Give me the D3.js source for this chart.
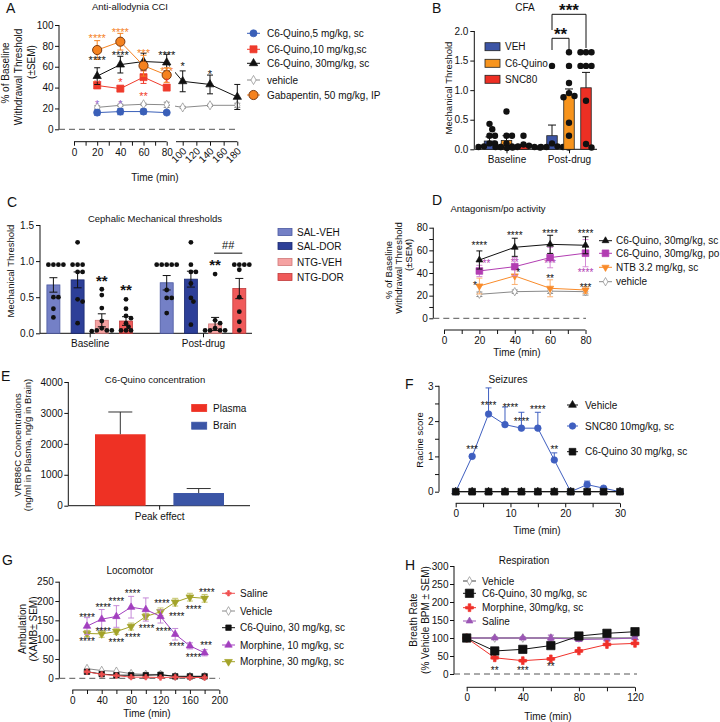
<!DOCTYPE html>
<html>
<head>
<meta charset="utf-8">
<script src="https://cdn.jsdelivr.net/npm/d3@7"></script>
<style>
  body { margin: 0; background: #fff; }
  svg { font-family: "Liberation Sans", Arial, sans-serif; }
</style>
</head>
<body>
<svg id="fig" width="720" height="722"></svg>
<script>
// ---------- A: anti-allodynia CCI ----------
const aTimes = [20, 40, 60, 80, 100, 140, 180];
const aQuino5 = [16, 17, 17, 16];
const aQuino5Err = [2.5, 3, 2.5, 1];
const aQuino10 = [42, 39, 50, 40];
const aQuino10Err = [2.5, 2, 6, 2.5];
const aQuino30 = [51, 62, 65, 64, 46, 43, 31];
const aQuino30Err = [8, 8, 8, 8, 10, 9, 12];
const aVehicle = [21, 23, 24, 23.5, 21, 23, 23];
const aVehicleErr = [1.5, 1, 1, 2.5, 1, 1, 2];
const aGaba = [76, 84, 61, 52];
const aGabaErr = [9, 8, 10, 7];
const aStarsGaba = [[20, 89.5, '****'], [40, 95, '****'], [60, 75, '***'], [80, 58.5, '***']];
const aStarsQuino30 = [[20, 69, '****'], [40, 73, '****'], [80, 73.5, '****'], [100, 63, '*'], [140, 55, '*']];
const aStarsQuino10 = [[20, 45.5, '**'], [40, 48, '*'], [60, 34.5, '**'], [80, 48, '*']];
const aStarsQuino5 = [[20, 26.5, '*'], [40, 26.5, '*']];

// ---------- B: CFA ----------
const bGroups = ['Baseline', 'Post-drug'];
const bSeries = ['VEH', 'C6-Quino', 'SNC80'];
const bVeh = [0.14, 0.23];
const bVehErr = [0.07, 0.18];
const bQuino = [0.15, 0.92];
const bQuinoErr = [0.08, 0.1];
const bSnc = [0.06, 1.04];
const bSncErr = [0.02, 0.26];
const bDotsVeh = [[0.43, 0.34, 0.23, 0.23, 0.1, 0.1, 0.05, 0.04, 0.04, 0.04], [1.41, 0.1, 0.05, 0.04, 0.04, 0.04, 0.03]];
const bDotsQuino = [[0.64, 0.23, 0.23, 0.1, 0.05, 0.04, 0.04, 0.04], [1.64, 1.41, 1.12, 0.95, 0.9, 0.88, 0.45, 0.23]];
const bDotsSnc = [[0.23, 0.08, 0.06, 0.05, 0.04, 0.03, 0.03, 0.02], [1.64, 1.64, 1.64, 1.41, 1.41, 1.41, 0.82, 0.09, 0.03]];

// ---------- C: cephalic thresholds ----------
const cGroups = ['Baseline', 'Post-drug'];
const cSeries = ['SAL-VEH', 'SAL-DOR', 'NTG-VEH', 'NTG-DOR'];
const cSalVeh = [0.67, 0.70];
const cSalVehErr = [0.1, 0.1];
const cSalDor = [0.74, 0.75];
const cSalDorErr = [0.11, 0.11];
const cNtgVeh = [0.18, 0.13];
const cNtgVehErr = [0.09, 0.09];
const cNtgDor = [0.17, 0.62];
const cNtgDorErr = [0.06, 0.14];
const cDotsSalVeh = [[0.95, 0.95, 0.95, 0.95, 0.5, 0.5, 0.34, 0.22], [0.95, 0.95, 0.95, 0.95, 0.95, 0.6, 0.49, 0.49, 0.28]];
const cDotsSalDor = [[1.26, 0.95, 0.95, 0.95, 0.85, 0.85, 0.47, 0.44, 0.14], [1.26, 0.95, 0.85, 0.85, 0.69, 0.49, 0.44, 0.12]];
const cDotsNtgVeh = [[0.61, 0.53, 0.35, 0.17, 0.07, 0.04, 0.04, 0.04, 0.03], [0.82, 0.18, 0.14, 0.07, 0.04, 0.04, 0.04, 0.04]];
const cDotsNtgDor = [[0.47, 0.34, 0.24, 0.21, 0.14, 0.09, 0.04, 0.04, 0.04], [0.95, 0.95, 0.95, 0.95, 0.88, 0.5, 0.3, 0.16, 0.04]];

// ---------- D: antagonism / po ----------
const dTimes = [20, 40, 60, 80];
const dQuinoSc = [51.5, 62.7, 65.3, 64.5];
const dQuinoScErr = [8, 8, 8, 7.5];
const dQuinoPo = [41.8, 45.6, 53.6, 57.5];
const dQuinoPoErr = [5, 8, 9, 12];
const dNtb = [28.5, 37.4, 26.5, 25];
const dNtbErr = [7, 7.5, 7.5, 3];
const dVehicle = [21.2, 23.5, 24, 23.5];
const dVehicleErr = [2, 1.5, 2, 3];
const dStarsSc = [[20, 66, '****'], [40, 75, '****'], [60, 76.5, '****'], [80, 76.5, '****']];
const dStarsPo = [[24, 50.4, '**'], [40, 51.5, '**'], [60, 50.4, '***'], [80, 42.7, '****']];
const dStarsNtb = [[17.5, 31, '*'], [42, 42, '*'], [60, 36.7, '**'], [80, 29.4, '***']];

// ---------- E: concentration ----------
const eGroups = ['Plasma', 'Brain'];
const eMeans = [2310, 410];
const eErr = [720, 145];

// ---------- F: seizures ----------
const fTimes = [0, 3, 6, 9, 12, 15, 18, 21, 24, 27, 30];
const fSnc80 = [0, 1.0, 2.2, 1.9, 1.8, 1.8, 0.9, 0, 0.2, 0.1, 0];
const fSnc80Err = [0, 0.05, 0.74, 0.5, 0.45, 0.45, 0.2, 0, 0.1, 0.02, 0];
const fVehicle = [0, 0, 0, 0, 0, 0, 0, 0, 0, 0, 0];
const fQuino = [0, 0, 0, 0, 0, 0, 0, 0, 0, 0, 0];
const fStars = [[3, 1.25, '***'], [6, 2.5, '****'], [10, 2.45, '****'], [12, 2.06, '****'], [15, 2.4, '****'], [18, 1.27, '**']];

// ---------- G: locomotor ----------
const gTimes = [20, 40, 60, 80, 100, 120, 140, 160, 180];
const gSaline = [17, 10, 7, 3, 3, 2, 3, 2, 2];
const gVehicle = [25, 20, 18, 12, 10, 10, 5, 5, 5];
const gQuino = [17, 11, 8, 8, 8, 9, 5, 5, 5];
const gMorph10 = [135, 153, 160, 184, 178, 160, 114, 84, 66];
const gMorph10Err = [22, 25, 28, 28, 30, 17, 15, 8, 8];
const gMorph30 = [116, 115, 121, 134, 160, 172, 197, 210, 207];
const gMorph30Err = [8, 9, 7, 9, 8, 10, 10, 10, 10];
const gStars = [
  [20, 164, '****'], [42, 190, '****'], [60, 205, '****'], [82, 226, '****'], [122, 198, '****'], [183, 229, '****'],
  [42, 127, '****'], [20, 102, '****'], [60, 99, '****'], [82, 112, '****'], [101, 135, '****'], [124, 127, '****'],
  [142, 166, '****'], [165, 185, '****'], [142, 88, '****'], [165, 60, '****'], [182, 91, '***']
];

// ---------- H: respiration ----------
const hTimes = [0, 20, 40, 60, 80, 100, 120];
const hVehicle = [100, 100, 100, 100, 100, 100, 100];
const hQuino = [100, 64, 68.5, 79, 105.5, 113, 117.5];
const hQuinoErr = [2, 3, 3, 3, 3, 3, 3];
const hMorph = [100, 45, 37, 42, 64, 82, 85];
const hMorphErr = [2, 3, 3, 3, 3, 3, 3];
const hSaline = [100, 100, 100, 100, 96, 97, 100];
const hSalineErr = [0, 3, 3, 8, 5, 5, 4];
const hStars = [[20, 16, '**'], [40, 16.7, '***'], [60, 27, '**']];

// ================= helpers =================
const svg = d3.select('#fig');
const INK = '#111';

function label(x, y, s, o = {}) {
  return svg.append('text').attr('x', x).attr('y', y)
    .attr('font-size', o.size || 10)
    .attr('fill', o.color || INK)
    .attr('text-anchor', o.anchor || 'start')
    .attr('font-weight', o.weight || null)
    .text(s);
}
function vlabel(x, y, s, size = 10) {
  svg.append('text').attr('transform', `translate(${x},${y}) rotate(-90)`)
    .attr('text-anchor', 'middle').attr('dominant-baseline', 'central')
    .attr('font-size', size).attr('fill', INK).text(s);
}
// y is the visual centre of the asterisks
function stars(x, y, s, size, color, weight) {
  label(x, y + size * 0.57, s, { size, color, anchor: 'middle', weight });
}
function tidy(g, size) {
  g.attr('font-family', null).attr('font-size', size || 10);
  g.select('.domain').remove();
  g.selectAll('line').attr('stroke', INK);
  g.selectAll('text').attr('fill', INK);
  return g;
}
function yAxis(y, x, majors, o = {}) {
  const ax = d3.axisLeft(y).tickValues(majors).tickSize(4).tickPadding(o.pad ?? 2)
    .tickFormat(o.fmt || d3.format('d'));
  const g = tidy(svg.append('g').attr('transform', `translate(${x},0)`).call(ax), o.fs);
  if (o.minor) tidy(svg.append('g').attr('transform', `translate(${x},0)`)
    .call(d3.axisLeft(y).tickValues(o.minor).tickSize(4).tickFormat('')));
  const ext = d3.extent(majors);
  svg.append('line').attr('x1', x).attr('x2', x).attr('y1', y(ext[0])).attr('y2', y(ext[1])).attr('stroke', INK);
  return g;
}
function xAxis(x, y, majors, o = {}) {
  const ax = d3.axisBottom(x).tickValues(majors).tickSize(4).tickPadding(o.pad ?? 3);
  if (o.fmt) ax.tickFormat(o.fmt);
  const g = tidy(svg.append('g').attr('transform', `translate(0,${y})`).call(ax), o.fs);
  if (o.minor) tidy(svg.append('g').attr('transform', `translate(0,${y})`)
    .call(d3.axisBottom(x).tickValues(o.minor).tickSize(4).tickFormat('')));
  const px = o.px || d3.extent(majors).map(x);
  svg.append('line').attr('x1', px[0]).attr('x2', px[1]).attr('y1', y).attr('y2', y).attr('stroke', INK);
  return g;
}
function zeroLine(x0, x1, y) {
  svg.append('line').attr('x1', x0).attr('x2', x1).attr('y1', y).attr('y2', y)
    .attr('stroke', '#555').attr('stroke-width', 1).attr('stroke-dasharray', '6,4');
}
function mark(g, cx, cy, o) {
  g.append('path').attr('d', d3.symbol(o.sym, o.size)())
    .attr('transform', `translate(${cx},${cy})${o.rot ? ' rotate(180)' : ''}`)
    .attr('fill', o.fill ?? o.color).attr('stroke', o.stroke ?? o.color)
    .attr('stroke-width', o.sw ?? 0.7);
}
function series(x, y, times, vals, errs, o) {
  const g = svg.append('g');
  const line = d3.line().x((d, i) => x(times[i])).y(d => y(d));
  const p = g.append('path').attr('d', line(vals)).attr('fill', 'none')
    .attr('stroke', o.lineColor || o.color).attr('stroke-width', o.lw || 1);
  if (o.clip) p.attr('clip-path', o.clip);
  if (errs) errs.forEach((e, i) => {
    if (!e) return;
    const cx = x(times[i]);
    const top = y(vals[i] + e), bot = o.up ? y(vals[i]) : y(vals[i] - e);
    const ec = o.errColor || o.color;
    g.append('line').attr('x1', cx).attr('x2', cx).attr('y1', top).attr('y2', bot).attr('stroke', ec);
    [top].concat(o.up ? [] : [bot]).forEach(yy =>
      g.append('line').attr('x1', cx - 3).attr('x2', cx + 3).attr('y1', yy).attr('y2', yy).attr('stroke', ec));
  });
  vals.forEach((v, i) => mark(g, x(times[i]), y(v), o));
}
function legendLines(x0, x1, tx, ys, items, size = 10) {
  items.forEach((it, i) => {
    const g = svg.append('g');
    g.append('line').attr('x1', x0).attr('x2', x1).attr('y1', ys[i]).attr('y2', ys[i])
      .attr('stroke', it.lineColor || it.color);
    mark(g, (x0 + x1) / 2, ys[i], it);
    label(tx, ys[i] + size * 0.36, it.label, { size });
  });
}
function legendBoxes(x, w, h, tx, ys, names, fills, strokes, size = 10) {
  names.forEach((n, i) => {
    svg.append('rect').attr('x', x).attr('y', ys[i] - h / 2).attr('width', w).attr('height', h)
      .attr('fill', fills[i]).attr('stroke', strokes[i]).attr('stroke-width', 0.8);
    label(tx, ys[i] + size * 0.36, n, { size });
  });
}
// compact beeswarm: each dot takes the nearest free slot to the bar centre
function swarm(vals, y, cx, r, gap) {
  const placed = [];
  const slots = [0];
  for (let k = 1; k < 12; k++) slots.push(k * gap / 2, -k * gap / 2);
  vals.slice().sort((a, b) => b - a).forEach(v => {
    const py = y(v);
    const dx = slots.find(s => placed.every(([qx, qy]) => (qx - cx - s) ** 2 + (qy - py) ** 2 >= (1.7 * r) ** 2));
    placed.push([cx + (dx ?? 0), py]);
  });
  return placed;
}
function barGroup(x0, x1, y, groups, names, means, errs, dots, o) {
  const g = svg.append('g');
  names.forEach((n, j) => groups.forEach((grp, i) => {
    const cx = x0(grp) + x1(n), v = means[j][i], e = errs[j][i];
    g.append('rect').attr('x', cx - o.w / 2).attr('y', y(v)).attr('width', o.w)
      .attr('height', y(0) - y(v)).attr('fill', o.fills[j]).attr('stroke', o.strokes[j]).attr('stroke-width', 0.8);
    const lo = o.up ? y(v) : y(v - e);
    g.append('line').attr('x1', cx).attr('x2', cx).attr('y1', y(v + e)).attr('y2', lo).attr('stroke', INK);
    [y(v + e)].concat(o.up ? [] : [lo]).forEach(yy =>
      g.append('line').attr('x1', cx - o.cap).attr('x2', cx + o.cap).attr('y1', yy).attr('y2', yy).attr('stroke', INK));
    if (dots) swarm(dots[j][i], y, cx, o.r, o.gap).forEach(([px, py]) =>
      g.append('circle').attr('cx', px).attr('cy', py).attr('r', o.r).attr('fill', INK));
  }));
}
function panelLetter(x, y, s) { label(x, y, s, { size: 14 }); }

// ================= A =================
const aX = d3.scaleLinear().domain([0, 80, 100, 180]).range([74, 166.7, 182.7, 237.3]);
const aY = d3.scaleLinear().domain([0, 100]).range([129.3, 25]);
const defs = svg.append('defs');
const clipA = defs.append('clipPath').attr('id', 'clipA');
clipA.append('rect').attr('x', 0).attr('y', 0).attr('width', 170).attr('height', 722);
clipA.append('rect').attr('x', 175).attr('y', 0).attr('width', 545).attr('height', 722);

panelLetter(6, 13, 'A');
label(130, 9.5, 'Anti-allodynia CCI', { size: 9.5, anchor: 'middle' });
yAxis(aY, 59, [0, 20, 40, 60, 80, 100], { pad: 1.5 });
zeroLine(59, 238, aY(0));
xAxis(aX, 141.7, [0, 20, 40, 60, 80], { minor: [10, 30, 50, 70] });
const aSeg2 = xAxis(aX, 141.7, [100, 120, 140, 160, 180], { px: [176, 237.3] });
aSeg2.selectAll('text').attr('text-anchor', 'end').attr('dy', null).attr('y', 0)
  .attr('transform', 'translate(4,10) rotate(-45)');
label(155, 181, 'Time (min)', { size: 10, anchor: 'middle' });
vlabel(5, 73, '% of Baseline', 10);
vlabel(18, 77, 'Withdrawal Threshold', 10);
vlabel(31, 62, '(±SEM)', 10);

const aOpts = {
  q5: { color: '#3a5fb8', sym: d3.symbolCircle, size: 40, label: 'C6-Quino,5 mg/kg, sc' },
  q10: { color: '#ef3b2c', sym: d3.symbolSquare, size: 50, label: 'C6-Quino,10 mg/kg,sc' },
  q30: { color: INK, sym: d3.symbolTriangle, size: 30, label: 'C6-Quino, 30mg/kg, sc', clip: 'url(#clipA)' },
  veh: { color: '#8a8a8a', fill: '#fff', sym: d3.symbolDiamond, size: 24, label: 'vehicle', clip: 'url(#clipA)' },
  gaba: { color: '#f5821f', stroke: '#7a3a12', sw: 1, sym: d3.symbolCircle, size: 66, label: 'Gabapentin, 50 mg/kg, IP' }
};
series(aX, aY, aTimes, aVehicle, aVehicleErr, aOpts.veh);
series(aX, aY, aTimes, aQuino5, aQuino5Err, aOpts.q5);
series(aX, aY, aTimes, aQuino10, aQuino10Err, aOpts.q10);
series(aX, aY, aTimes, aQuino30, aQuino30Err, aOpts.q30);
series(aX, aY, aTimes, aGaba, aGabaErr, aOpts.gaba);
aStarsGaba.forEach(([t, v, s]) => stars(aX(t), aY(v), s, 11, '#f5821f'));
aStarsQuino30.forEach(([t, v, s]) => stars(aX(t), aY(v), s, 11, INK));
aStarsQuino10.forEach(([t, v, s]) => stars(aX(t), aY(v), s, 11, '#ef3b2c'));
aStarsQuino5.forEach(([t, v, s]) => stars(aX(t), aY(v), s, 11, '#9a6ad0'));
legendLines(247, 260, 267, [33.3, 49.3, 63.3, 80, 95],
  [aOpts.q5, aOpts.q10, aOpts.q30, aOpts.veh, aOpts.gaba]);

// ================= B =================
const bY = d3.scaleLinear().domain([0, 2]).range([149.3, 31]);
const bX0 = d3.scalePoint().domain(bGroups).range([506.5, 569]);
const bX1 = d3.scalePoint().domain(bSeries).range([-17, 17]);
const bFills = ['#3c54a5', '#f7941d', '#ed2f24'];
panelLetter(432, 13, 'B');
label(525, 11, 'CFA', { size: 10, anchor: 'middle' });
yAxis(bY, 474.3, [0, 0.5, 1, 1.5, 2], { fmt: d3.format('.1f') });
xAxis(bX0, 149.3, bGroups, { px: [474.3, 597] });
vlabel(448, 88, 'Mechanical Threshold', 9.5);
barGroup(bX0, bX1, bY, bGroups, bSeries, [bVeh, bQuino, bSnc], [bVehErr, bQuinoErr, bSncErr],
  [bDotsVeh, bDotsQuino, bDotsSnc], { w: 10.5, cap: 4, r: 3.2, gap: 5.5, up: true, fills: bFills, strokes: ['#222', '#222', '#222'] });
legendBoxes(485, 15, 8, 505, [46.7, 63.3, 79.3], bSeries, bFills, ['#222', '#222', '#222']);
{
  const xa = bX0('Post-drug') + bX1('VEH'), xb = bX0('Post-drug') + bX1('C6-Quino'), xc = bX0('Post-drug') + bX1('SNC80');
  svg.append('path').attr('d', `M${xa},50V38.3H${xb}V50`).attr('fill', 'none').attr('stroke', INK);
  svg.append('path').attr('d', `M${xa},30V14.3H${xc}V48`).attr('fill', 'none').attr('stroke', INK);
  stars((xa + xb) / 2, 30, '**', 17, INK, 'bold');
  stars((xa + xc) / 2, 6.7, '***', 17, INK, 'bold');
}

// ================= C =================
const cY = d3.scaleLinear().domain([0, 1.5]).range([333.3, 225]);
const cX0 = d3.scalePoint().domain(cGroups).range([89.7, 203]);
const cX1 = d3.scalePoint().domain(cSeries).range([-36.3, 36.3]);
const cFills = ['#7480c6', '#2d3f98', '#f5a2a2', '#f05a5a'];
const cStrokes = ['#4a58a0', '#1b2a70', '#d07878', '#c03a3a'];
panelLetter(7, 207, 'C');
label(155, 222, 'Cephalic Mechanical thresholds', { size: 9.5, anchor: 'middle' });
yAxis(cY, 40, [0, 0.5, 1, 1.5], { fmt: d3.format('.1f') });
xAxis(cX0, 333.3, cGroups, { px: [40, 252] });
vlabel(10, 271, 'Mechanical Threshold', 9.5);
barGroup(cX0, cX1, cY, cGroups, cSeries, [cSalVeh, cSalDor, cNtgVeh, cNtgDor],
  [cSalVehErr, cSalDorErr, cNtgVehErr, cNtgDorErr],
  [cDotsSalVeh, cDotsSalDor, cDotsNtgVeh, cDotsNtgDor], { w: 13, cap: 4, r: 2.4, gap: 5, fills: cFills, strokes: cStrokes });
legendBoxes(278, 14, 7, 297, [232, 246, 262, 277], cSeries, cFills, cStrokes);
stars(cX0('Baseline') + cX1('NTG-VEH'), cY(0.77), '**', 15, INK, 'bold');
stars(cX0('Baseline') + cX1('NTG-DOR'), cY(0.655), '**', 15, INK, 'bold');
stars(cX0('Post-drug') + cX1('NTG-VEH'), cY(0.99), '**', 15, INK, 'bold');
{
  const xa = cX0('Post-drug') + cX1('NTG-VEH'), xb = cX0('Post-drug') + cX1('NTG-DOR');
  svg.append('line').attr('x1', xa - 1).attr('x2', xb + 3).attr('y1', cY(1.11)).attr('y2', cY(1.11)).attr('stroke', INK);
  label((xa + xb) / 2 + 1, cY(1.11) - 4, '##', { size: 11, anchor: 'middle' });
}

// ================= D =================
const dX = d3.scaleLinear().domain([0, 80]).range([444, 585.5]);
const dY = d3.scaleLinear().domain([0, 80]).range([318.3, 227.7]);
panelLetter(432, 205, 'D');
label(498, 212, 'Antagonism/po activity', { size: 9.5, anchor: 'middle' });
yAxis(dY, 433.3, [0, 20, 40, 60, 80], { minor: [10, 30, 50, 70], pad: 1.5 });
zeroLine(433.3, 586, dY(0));
xAxis(dX, 330, [0, 20, 40, 60, 80], { minor: [10, 30, 50, 70] });
label(517, 356, 'Time (min)', { size: 10, anchor: 'middle' });
vlabel(388, 270, '% of Baseline', 9.5);
vlabel(398, 268, 'Withdrawal Threshold', 9.5);
vlabel(408, 255, '(±SEM)', 9.5);
const dOpts = {
  sc: { color: INK, sym: d3.symbolTriangle, size: 20, label: 'C6-Quino, 30mg/kg, sc' },
  po: { color: '#b23db2', sym: d3.symbolSquare, size: 45, errColor: '#d58ad5', label: 'C6-Quino, 30mg/kg, po' },
  ntb: { color: '#f98b2a', sym: d3.symbolTriangle, rot: true, size: 22, errColor: '#fbb070', label: 'NTB 3.2 mg/kg, sc' },
  veh: { color: '#8a8a8a', fill: '#fff', sym: d3.symbolDiamond, size: 20, label: 'vehicle' }
};
series(dX, dY, dTimes, dVehicle, dVehicleErr, dOpts.veh);
series(dX, dY, dTimes, dNtb, dNtbErr, dOpts.ntb);
series(dX, dY, dTimes, dQuinoPo, dQuinoPoErr, dOpts.po);
series(dX, dY, dTimes, dQuinoSc, dQuinoScErr, dOpts.sc);
dStarsSc.forEach(([t, v, s]) => stars(dX(t), dY(v), s, 10, INK));
dStarsPo.forEach(([t, v, s]) => stars(dX(t), dY(v), s, 10, '#b23db2'));
dStarsNtb.forEach(([t, v, s]) => stars(dX(t), dY(v), s, 10, INK));
legendLines(599, 612, 616, [240.7, 253.3, 267.3, 281.7], [dOpts.sc, dOpts.po, dOpts.ntb, dOpts.veh]);

// ================= E =================
const eY = d3.scaleLinear().domain([0, 4000]).range([505.7, 382]);
const eX = d3.scalePoint().domain(eGroups).range([120.3, 198.7]);
const eTick = d3.scalePoint().domain(['Peak effect']).range([68.3, 250]);
const eFills = ['#ee3124', '#3b55a6'];
panelLetter(1, 381, 'E');
label(155, 383, 'C6-Quino concentration', { size: 9.5, anchor: 'middle' });
yAxis(eY, 68.3, [0, 1000, 2000, 3000, 4000], { pad: 1.5 });
xAxis(eTick, 505.7, ['Peak effect'], { px: [68.3, 250] });
vlabel(17, 445, 'VRB86C Concentrations', 9.5);
vlabel(27, 445, '(ng/ml in Plasma, ng/g in Brain)', 9.5);
eGroups.forEach((grp, i) => {
  const cx = eX(grp), v = eMeans[i], e = eErr[i];
  svg.append('rect').attr('x', cx - 25.3).attr('y', eY(v)).attr('width', 50.6).attr('height', eY(0) - eY(v)).attr('fill', eFills[i]);
  svg.append('line').attr('x1', cx).attr('x2', cx).attr('y1', eY(v)).attr('y2', eY(v + e)).attr('stroke', '#333');
  svg.append('line').attr('x1', cx - 12).attr('x2', cx + 12).attr('y1', eY(v + e)).attr('y2', eY(v + e)).attr('stroke', '#333');
});
legendBoxes(191.7, 15, 7, 213, [408, 425.7], eGroups, eFills, eFills);

// ================= F =================
const fX = d3.scaleLinear().domain([0, 30]).range([455.7, 620]);
const fY = d3.scaleLinear().domain([0, 3]).range([491.7, 385.8]);
panelLetter(405, 389, 'F');
label(508, 383, 'Seizures', { size: 10, anchor: 'middle' });
yAxis(fY, 439, [0, 1, 2, 3], { minor: [0.5, 1.5, 2.5], pad: 1.5 });
xAxis(fX, 503.3, [0, 10, 20, 30], { minor: [5, 15, 25] });
label(537, 534, 'Time (min)', { size: 10, anchor: 'middle' });
vlabel(419, 440, 'Racine score', 9.5);
const fOpts = {
  veh: { color: INK, sym: d3.symbolTriangle, size: 26, label: 'Vehicle' },
  snc: { color: '#3f5fc0', sym: d3.symbolCircle, size: 34, label: 'SNC80 10mg/kg, sc' },
  q: { color: INK, sym: d3.symbolSquare, size: 45, label: 'C6-Quino 30 mg/kg, sc' }
};
series(fX, fY, fTimes, fVehicle, null, fOpts.veh);
series(fX, fY, fTimes, fSnc80, fSnc80Err, Object.assign({ up: true }, fOpts.snc));
series(fX, fY, fTimes, fQuino, null, fOpts.q);
fStars.forEach(([t, v, s]) => stars(fX(t), fY(v), s, 10, INK));
legendLines(567, 578, 585, [405, 426, 451.7], [fOpts.veh, fOpts.snc, fOpts.q]);

// ================= G =================
const gX = d3.scaleLinear().domain([0, 200]).range([72.3, 219.3]);
const gY = d3.scaleLinear().domain([0, 250]).range([678.3, 581.7]);
panelLetter(2, 565, 'G');
label(130, 574, 'Locomotor', { size: 10, anchor: 'middle' });
yAxis(gY, 59.3, [0, 50, 100, 150, 200, 250], { pad: 1.5 });
zeroLine(59.3, 220, gY(0));
xAxis(gX, 690, [0, 40, 80, 120, 160, 200], { minor: [20, 60, 100, 140, 180] });
label(147, 717, 'Time (min)', { size: 10, anchor: 'middle' });
vlabel(22.5, 629, 'Ambulation', 10);
vlabel(33, 629, '(XAMB± SEM)', 10);
const gOpts = {
  sal: { color: '#f05050', sym: d3.symbolCross, size: 16, label: 'Saline' },
  veh: { color: '#8a8a8a', fill: '#fff', sym: d3.symbolDiamond, size: 22, label: 'Vehicle' },
  q: { color: INK, sym: d3.symbolSquare, size: 30, label: 'C6-Quino, 30 mg/kg, sc' },
  m10: { color: '#a23fbf', sym: d3.symbolTriangle, size: 24, errColor: '#c58ad8', label: 'Morphine, 10 mg/kg, sc' },
  m30: { color: '#a3a329', sym: d3.symbolTriangle, rot: true, size: 26, errColor: '#c4c46a', label: 'Morphine, 30 mg/kg, sc' }
};
series(gX, gY, gTimes, gVehicle, null, gOpts.veh);
series(gX, gY, gTimes, gQuino, null, gOpts.q);
series(gX, gY, gTimes, gSaline, null, gOpts.sal);
series(gX, gY, gTimes, gMorph30, gMorph30Err, gOpts.m30);
series(gX, gY, gTimes, gMorph10, gMorph10Err, gOpts.m10);
gStars.forEach(([t, v, s]) => stars(gX(t), gY(v), s, 10, INK));
legendLines(222, 235, 240, [593.3, 611, 627.7, 645, 661.7], [gOpts.sal, gOpts.veh, gOpts.q, gOpts.m10, gOpts.m30]);

// ================= H =================
const hX = d3.scaleLinear().domain([0, 120]).range([466.7, 635]);
const hY = d3.scaleLinear().domain([0, 300]).range([674, 566]);
panelLetter(405, 570, 'H');
label(524, 564, 'Respiration', { size: 10, anchor: 'middle' });
yAxis(hY, 454, [0, 50, 100, 150, 200, 250, 300], { pad: 1.5 });
zeroLine(454, 637, hY(0));
xAxis(hX, 687.3, [0, 40, 80, 120], { minor: [20, 60, 100] });
label(548, 720, 'Time (min)', { size: 10, anchor: 'middle' });
vlabel(413, 620, 'Breath Rate', 10);
vlabel(425, 620, '(% Vehicle BPM ± SEM)', 10);
const hOpts = {
  veh: { color: '#8a8a8a', lineColor: '#444', fill: '#fff', sym: d3.symbolDiamond, size: 22, label: 'Vehicle' },
  q: { color: INK, sym: d3.symbolSquare, size: 70, label: 'C6-Quino, 30 mg/kg, sc' },
  m: { color: '#f0302a', sym: d3.symbolCross, size: 34, label: 'Morphine, 30mg/kg, sc' },
  sal: { color: '#9b55b5', sym: d3.symbolTriangle, size: 20, label: 'Saline' }
};
series(hX, hY, hTimes, hVehicle, null, hOpts.veh);
series(hX, hY, hTimes, hSaline, hSalineErr, hOpts.sal);
series(hX, hY, hTimes, hMorph, hMorphErr, hOpts.m);
series(hX, hY, hTimes, hQuino, hQuinoErr, hOpts.q);
hStars.forEach(([t, v, s]) => stars(hX(t), hY(v), s, 10, INK));
legendLines(463, 476, 482, [581, 593.3, 607.7, 621], [hOpts.veh, hOpts.q, hOpts.m, hOpts.sal]);
</script>
</body>
</html>
